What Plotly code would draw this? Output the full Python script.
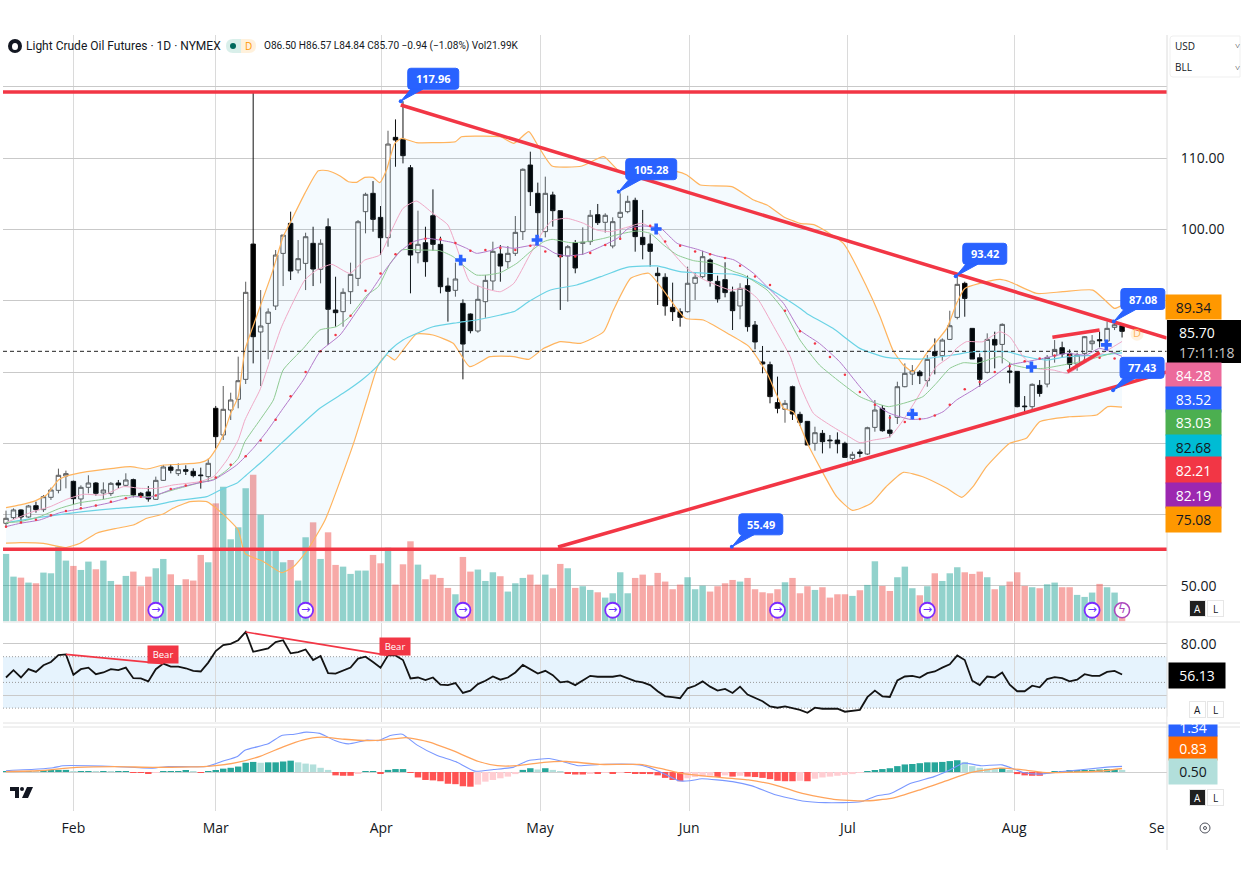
import plotly.graph_objects as go

W = 1244
H = 874

# daily candles, 150 sessions (x is the session number)
opens = [58.79,59.58,60.66,59.67,61.26,60.70,62.43,63.41,65.42,64.67,62.20,63.83,64.44,63.04,62.95,64.44,64.11,64.91,62.99,63.18,
 62.15,64.81,66.68,65.75,66.31,66.08,65.56,65.33,74.91,71.17,74.67,76.17,78.97,97.94,85.61,86.82,89.25,96.63,100.84,94.30,
 95.23,98.04,94.39,100.37,88.69,88.46,91.26,93.13,102.48,105.05,101.68,98.83,112.90,112.62,108.64,96.73,98.13,101.91,97.90,92.05,
 91.45,89.63,88.13,85.75,89.86,92.76,96.55,95.47,96.64,99.68,109.02,105.05,99.68,104.82,102.62,96.27,98.13,98.04,98.28,102.06,
 100.99,97.67,101.69,102.48,104.07,98.88,97.95,93.84,93.28,89.07,88.46,88.46,92.44,93.37,95.71,92.71,92.95,91.22,89.26,92.11,
 86.59,81.41,81.03,75.71,74.76,77.94,74.06,73.08,70.00,71.40,70.46,70.46,70.00,67.89,68.78,68.50,72.24,74.90,71.86,73.64,
 77.94,79.71,80.00,78.78,82.85,82.29,84.57,87.66,92.43,86.12,82.00,79.95,84.57,83.87,80.14,80.09,75.23,75.14,78.13,78.31,
 82.29,83.41,82.61,81.12,82.61,83.97,84.53,84.34,86.26,86.50]
highs = [60.56,60.88,60.75,61.36,61.82,62.76,63.79,66.45,66.17,64.77,64.11,65.52,64.58,64.53,64.58,64.86,65.80,65.05,63.18,64.02,
 65.33,66.96,67.06,67.20,66.92,66.50,66.59,67.85,75.24,78.04,77.10,82.15,92.66,119.40,91.49,88.92,97.10,99.20,102.48,98.50,
 99.53,100.37,98.60,101.54,93.36,91.73,95.33,101.31,105.14,106.77,103.27,113.83,115.42,117.96,109.02,102.62,100.37,105.61,98.97,93.22,
 95.33,90.19,88.22,92.10,93.60,98.27,97.80,97.67,101.87,108.55,110.89,106.55,107.39,105.28,102.62,97.81,98.51,100.28,102.71,103.56,
 102.25,101.69,105.05,104.72,104.44,102.72,99.30,94.68,93.84,92.53,88.93,94.77,93.93,97.00,95.94,93.51,95.38,91.97,92.44,93.51,
 87.15,83.65,81.45,79.35,76.07,78.08,74.43,73.13,72.33,71.86,71.16,71.54,70.23,68.83,69.15,72.33,76.07,75.37,73.97,78.64,
 81.21,80.98,80.28,82.38,84.71,84.71,88.59,93.42,92.66,86.12,82.61,85.42,85.65,86.82,81.21,80.09,76.63,78.41,78.87,82.38,
 84.48,84.25,83.17,82.71,85.04,85.18,85.65,87.08,87.08,86.57]
lows = [58.41,59.25,59.02,59.58,60.28,60.38,62.06,62.99,63.69,61.36,61.22,62.99,62.66,62.15,62.62,63.69,63.93,62.43,62.38,61.82,
 62.06,64.72,65.79,65.42,65.56,65.23,63.65,64.63,69.30,70.47,73.27,74.91,78.32,81.21,78.04,81.78,88.69,92.05,92.90,93.83,
 91.49,92.05,92.43,83.78,86.35,86.35,89.53,92.05,99.44,99.67,96.40,97.57,108.78,109.25,91.03,95.23,93.36,97.00,91.03,87.06,
 90.56,78.97,85.42,85.51,87.61,91.49,92.66,94.54,96.27,98.51,103.28,98.88,98.88,100.38,88.70,89.86,93.84,96.41,97.81,100.61,
 99.54,97.34,98.51,102.25,96.87,95.80,94.77,89.40,87.90,87.15,86.36,88.32,90.10,93.14,91.97,89.73,90.47,85.89,87.39,85.66,
 83.18,79.82,75.61,74.21,72.89,73.27,72.43,69.76,68.97,68.59,69.30,68.59,68.03,67.42,68.03,68.36,71.63,71.63,70.84,72.71,
 77.85,78.17,78.31,77.94,79.67,81.59,84.48,87.38,87.75,81.82,77.94,79.81,80.51,81.21,78.41,75.05,74.29,74.57,76.54,77.85,
 81.31,82.05,80.04,80.18,81.59,83.08,83.45,83.64,85.88,84.84]
closes = [59.49,60.66,59.67,61.22,60.70,62.52,63.46,65.52,65.75,62.24,63.83,64.44,62.99,63.46,64.39,64.16,64.86,62.76,62.62,62.20,
 64.81,66.68,66.22,66.31,66.08,65.47,65.47,67.20,70.94,74.77,76.08,78.78,91.17,84.95,86.45,88.41,96.40,99.20,94.16,95.89,
 98.97,94.44,98.04,88.79,88.32,91.17,93.69,101.07,104.91,101.40,98.83,111.96,112.52,110.33,96.40,97.90,95.47,97.90,91.96,91.31,
 93.04,83.92,85.79,90.19,92.85,96.92,94.86,96.64,99.58,108.42,105.28,102.34,105.05,102.62,96.17,97.57,94.58,98.18,101.97,100.94,
 101.97,101.08,102.39,103.93,98.98,97.86,96.92,93.51,89.26,88.46,87.67,92.44,93.28,96.17,92.81,90.24,91.13,88.60,91.73,86.36,
 84.21,81.13,76.55,74.91,75.60,74.11,72.94,69.76,71.49,70.23,70.37,69.95,68.03,68.45,68.59,72.19,74.67,71.77,71.40,77.94,
 79.81,80.18,79.48,81.77,82.29,84.48,86.49,92.29,90.32,81.82,78.97,84.57,83.78,86.68,80.00,75.14,75.14,78.27,77.00,82.05,
 83.17,82.52,81.07,82.38,84.95,84.34,84.39,86.12,86.63,85.70]
volumes = [86.9,57.6,56.3,49.9,49.0,62.8,61.9,96.3,78.3,71.4,66.2,77.0,67.1,78.3,52.0,47.3,58.5,64.1,45.2,57.6,
 68.4,80.4,60.6,46.4,54.2,52.5,85.6,76.1,152.2,173.7,105.8,121.3,171.6,189.2,137.6,91.2,91.2,76.1,79.1,52.5,
 108.4,127.7,80.4,114.8,72.7,70.5,61.1,65.4,65.4,85.6,74.8,95.0,47.3,73.5,103.2,73.1,54.2,60.2,55.9,43.0,
 34.8,83.0,64.1,66.7,52.0,63.2,58.1,38.3,49.0,55.9,60.2,47.3,60.2,42.6,74.0,68.4,43.0,45.2,40.4,37.4,
 30.5,36.1,63.2,36.1,55.9,60.2,46.0,62.4,51.2,41.3,47.3,56.8,41.3,46.0,38.3,45.2,49.0,53.3,51.2,55.9,
 41.3,37.4,36.1,41.3,50.3,55.9,36.1,45.2,40.4,43.9,30.5,34.8,34.8,32.7,40.0,46.9,77.4,45.6,39.1,56.8,
 70.5,42.6,33.5,45.2,61.9,52.0,61.9,69.7,63.2,61.1,64.1,56.8,41.3,45.6,51.2,63.2,45.6,43.9,42.6,47.7,
 49.9,43.9,43.9,34.0,31.4,37.0,48.2,43.9,37.0,21.99]

bb_upper_idx = [0,1.9,3.6,5.4,7,8.1,10.8,14.3,16.6,18.8,21,23.2,25.9,27,28,29,30,31,31.9,33.2,35.5,37,37.9,39.9,41.7,43,44.6,45.7,46.8,47.9,49,49.9,50.8,51.9,52.8,54.8,57,60,60.8,62.8,66,67.8,69.8,71.1,72.9,76.9,79.8,82,89.6,90.9,92.7,96.9,99.8,101.6,103.8,106,108,111.8,114.9,116.7,118.4,119.8,121.1,122.9,125.6,126.9,128,130,132.7,134,137.6,141.1,145.1,146.7,148,149]
bb_upper = [60.98,61.36,61.82,62.76,64.86,65.42,66.03,66.50,66.73,66.40,66.96,67.06,67.29,67.76,69.16,71.17,74.21,76.54,83.08,87.05,93.83,98.97,100.84,105.05,108.22,108.22,107.48,106.68,106.59,107.29,107.29,106.54,108.32,112.06,112.76,112.15,112.15,112.29,112.99,113.08,112.99,112.06,113.70,111.59,108.88,108.88,110.19,108.09,108.09,107.62,106.22,105.99,104.12,103.42,101.78,100.85,100.60,98.03,91.96,87.75,83.08,80.98,80.04,82.61,86.12,89.62,91.72,92.43,92.99,92.66,91.02,91.26,91.49,90.09,88.92,89.34]
bb_lower_idx = [0,1.9,5,7.9,9.9,12.1,14.8,17,18.8,21,22.3,24.6,26.8,28.6,31,31.9,34.4,36.8,38.4,40.1,42.6,46.4,48.2,49.7,50.8,51.9,53,54.8,57,59.7,61.9,64.6,66,67.8,69.8,71.8,74,76.7,79.8,81.1,83.4,85.8,87.4,90.7,93.1,96.3,99.2,101.6,103.8,105.1,107.1,109.1,110.9,113,115.5,117.5,119.8,122.4,125.6,127.6,129.1,130.9,134,136.2,138,142,145.6,147.1,149]
bb_lower = [56.00,56.08,55.98,55.38,56.00,57.40,58.09,58.55,59.49,60.09,60.89,61.82,61.82,60.42,57.85,54.58,53.41,51.87,52.71,54.81,59.25,70.00,76.07,80.98,82.38,81.68,83.08,85.33,85.19,84.02,80.75,82.15,82.24,82.15,81.78,83.32,84.26,84.02,85.66,88.70,93.14,93.84,91.97,87.53,87.29,85.43,83.56,79.82,74.91,74.43,69.76,65.79,62.52,60.60,61.60,63.92,65.93,65.32,63.69,62.42,63.92,66.72,70.00,70.70,73.03,73.73,73.97,75.14,75.08]

# moving averages
pink_idx = [0,3.6,5.9,8.1,10.3,13,15.7,17.9,20.1,22.3,25.9,27.7,29.5,31,31.9,33,33.9,36.8,39.9,41.5,43.5,45.9,47.9,49.9,51.5,53,54.8,57,59,60.6,61.9,64.2,66,67.8,69.8,71.8,72.9,74.9,77.1,78.9,80.7,82.9,84.9,86.9,88.7,90.9,93.1,96.7,98.5,100.3,102.5,104.7,106,107.8,110,112.2,114,115.8,118,119.8,121.5,124.2,126,126.9,128.2,130.4,132.7,134,135.8,137.6,139.8,141.8,143.6,146,149]
pink = [58.88,60.42,61.12,62.15,62.85,62.76,63.93,63.69,63.69,64.16,64.63,65.33,67.67,70.47,73.27,75.61,77.48,86.35,92.90,94.30,95.09,93.83,95.70,96.40,99.91,102.94,103.97,102.24,100.61,96.17,92.66,91.64,91.26,92.43,96.17,99.91,101.22,101.55,100.85,99.91,99.68,100.29,100.85,99.68,97.11,94.54,92.99,91.50,91.73,90.33,86.36,82.15,78.20,74.20,72.57,71.16,70.09,70.46,70.93,73.27,76.07,80.74,82.14,83.31,84.25,84.25,85.65,84.95,82.14,80.51,80.28,79.81,80.98,82.38,84.28]
green_idx = [0,1.9,4.5,7.2,9.9,13,15.7,19.2,22.3,25.9,27.7,29.5,31,31.9,33.9,35.7,37,39.7,41.9,44.1,45.9,48.2,49.7,51.3,52.8,55.3,57.9,59.7,61.5,62.8,64.2,66,68.2,70,71.8,72.9,75.3,77.6,79.8,82,84.2,86,87.8,89.6,91.8,94.5,97.2,98.5,100.3,101.6,103.8,106,108.6,111.3,114,116.2,117.8,119.8,122.4,124.2,126,127.8,129.6,132.7,134.5,136.7,138.5,141.1,143.4,146,149]
green = [58.88,59.02,59.72,60.89,61.68,62.15,62.66,62.52,63.46,64.49,64.95,66.26,67.90,70.24,73.27,76.08,80.28,83.32,85.89,86.35,87.76,90.79,91.96,95.23,97.10,97.10,97.01,96.17,94.53,93.60,93.60,93.93,95.24,96.87,98.28,98.60,98.14,98.28,98.74,99.35,99.77,99.44,97.81,96.41,95.61,95.24,94.07,93.60,92.43,91.50,88.70,84.49,80.98,78.64,76.54,75.60,75.14,75.60,76.54,78.41,80.51,81.30,81.21,82.14,80.98,80.51,80.51,80.98,81.44,82.14,83.03]
purple_idx = [0,1.9,4.5,7.2,10.3,13.9,17,19.2,22.3,25.9,27.7,30.8,33,34.8,37,39.7,41.9,44.6,46.8,49,50.8,52.6,54.4,56.2,57.9,59.7,61.5,62.8,64.6,66,67.8,70.5,71.8,73.3,74.9,77.1,79.4,81.6,83.1,85.1,87.4,89.6,92.3,94.9,97.2,99.8,101.6,103.8,106,108.6,111.3,114,116.2,118,120.7,122.9,125.1,126.9,129.1,131.8,134,136.2,138.5,141.6,144.2,146,149]
purple = [58.32,58.79,59.25,60.28,60.89,61.68,62.52,62.43,63.60,64.49,64.86,66.96,69.30,71.64,74.91,78.88,82.85,85.19,88.46,91.73,94.53,96.87,98.27,98.74,98.50,98.13,97.34,96.64,97.01,97.57,97.34,97.81,97.57,96.64,96.27,96.55,97.57,98.74,100.15,100.47,100.15,98.04,97.20,96.27,95.71,93.84,91.97,89.63,85.88,84.01,81.44,77.94,75.37,74.20,73.36,73.50,74.43,76.07,77.47,79.34,80.98,81.44,81.91,82.61,82.38,83.31,82.19]
cyan_idx = [0,4.5,10.3,14.8,19.2,22.8,26.8,28.6,30.8,32.1,34.4,37,41.9,45,47.5,49.5,51.3,53,57,60.2,62.8,66,68,69.8,72.7,76.2,79.4,82.9,86.9,90,93.6,97.2,99.8,102.9,106,106.9,110.4,114,117.5,122,126.4,129.1,133.6,136.2,138.9,141.6,146,149]
cyan = [58.88,59.63,60.42,60.89,61.22,61.96,62.52,63.46,64.39,65.56,67.66,70.24,74.91,77.01,78.88,80.75,83.08,84.49,86.35,86.91,87.29,87.99,88.56,89.87,91.50,92.20,93.37,94.68,94.87,94.07,93.84,93.70,92.90,91.03,88.93,88.22,86.12,83.31,82.05,81.82,82.38,82.85,82.85,82.14,81.68,82.14,82.38,82.68]
# red dots, every second session
dots_idx = list(range(0, 150, 2))
dots = [58.3,58.9,59.3,59.9,60.5,60.9,61.3,61.8,62.3,62.5,62.7,63.6,64.1,64.6,65.2,67.0,68.2,70.4,73.3,76.6,80.0,82.9,85.2,87.9,91.4,93.8,96.5,98.0,98.7,98.6,98.1,97.0,97.1,97.4,97.1,97.7,96.9,96.2,96.2,96.7,97.8,98.7,100.1,100.5,98.3,97.7,96.9,96.5,96.0,94.9,93.4,92.2,88.6,85.7,84.0,82.1,79.6,77.2,75.4,73.6,73.0,73.4,73.9,75.4,77.6,78.6,80.0,80.8,81.5,81.9,82.3,82.3,81.7,82.0,81.9]
# blue crosses
cross_idx = [60.7,70.9,86.8,121,136.9,146.9]
cross_price = [95.7,98.5,100.05,74.1,80.7,83.8]

# drawn lines (session, price, session, price)
resistance_top = [-0.4,119.25,155,119.25]
support_bottom = [-0.4,55.14,155,55.14]
falling_line = [52.7,117.43,155,84.77]
rising_line = [73.7,55.47,155,80.0]
small_upper = [139.7,84.87,146,85.89]
small_lower = [141.7,80.04,146,82.72]
last_close_line = 82.9

# price callouts
callout_idx = [52.7,81.8,126.8,147.9,147.8,96.9]
callout_price = [117.96,105.28,93.42,87.08,77.43,55.49]
callout_text = ['117.96','105.28','93.42','87.08','77.43','55.49']

event_idx = [20,40,61,81,103,123,145]
event_level = 46.6

# rsi, one value per session
rsi = [53.8,59.5,53.8,60.3,58.2,63.3,65.9,71.3,71.8,55.9,60.3,61.5,56.4,57.7,60.3,59.5,61.5,53.3,53.1,50.8,
 60.3,64.6,62.3,62.3,61.0,59.0,58.5,65.4,74.4,79.0,80.0,82.8,89.2,73.8,75.1,76.4,81.3,82.8,72.6,73.6,
 75.6,67.4,70.5,57.2,56.9,59.0,61.5,68.5,70.0,65.9,61.5,71.0,71.0,67.4,53.1,53.8,51.8,53.8,48.2,47.9,
 49.5,41.8,43.6,48.7,51.3,54.6,52.1,53.8,57.7,63.6,60.3,56.9,59.0,55.6,50.0,50.8,47.9,51.8,55.1,54.4,
 54.5,54.4,55.4,53.5,51.0,50.0,47.9,43.1,39.2,38.5,37.7,45.4,47.4,50.8,46.7,43.6,44.9,41.8,46.7,40.5,
 38.2,35.4,31.3,30.3,31.3,30.0,28.7,26.4,30.3,29.5,29.5,29.5,27.2,28.2,28.7,38.5,43.6,39.2,38.7,51.5,
 54.6,55.1,53.8,57.2,58.5,61.5,64.1,71.0,67.4,51.3,47.9,54.6,53.8,57.7,48.2,43.1,43.1,47.4,46.2,52.6,
 54.1,53.3,50.8,52.1,56.4,55.1,55.1,58.2,59.0,56.13]
bear_lines = [[8,71.8,21,64.6],[32,89.2,51,71.0]]
bear_label_idx = [21,51.9]
bear_label_rsi = [71.5,77.7]

# macd
macd_idx = [0,4.3,6.3,7.6,11,14.5,19.6,21.7,26.8,28.8,30.9,31.9,35,36.8,38.5,40.1,41.9,43.9,45.7,48.2,49.8,51.3,52.9,54.9,57.5,60,62.6,65.1,67.7,69.7,72.5,74.3,76.4,79.3,84.6,86.7,88.2,89.8,91.3,92.9,97,99.6,102.7,106.3,109.4,114.1,116.2,118,120.8,123.9,126,127.8,130.2,133,135.8,137.9,141,146.7,149]
macd = [0.3,0.7,1.0,1.5,1.5,1.3,0.9,1.3,1.3,2.5,3.7,5.2,6.7,8.7,9.0,9.5,9.2,7.5,6.7,7.6,7.5,8.7,9.0,6.4,4.0,2.5,0.2,0.6,1.1,2.7,3.2,2.5,1.5,1.8,1.7,0.5,-0.7,-2.1,-2.1,-1.6,-2.3,-3.3,-5.4,-6.9,-7.3,-7.1,-5.7,-5.2,-2.7,-1.1,0.5,2.1,1.5,1.7,-0.1,-0.5,0.1,1.1,1.34]
signal_idx = [0,4.3,9.4,14.5,19.6,24.7,27.3,30.9,34,37,39.6,42.1,45.2,48.2,50.3,53.4,56.4,59.5,63.1,65.6,68.2,71.8,74.8,79.3,84.6,87.2,89.8,93.4,99.1,102.7,106.3,110.5,114.6,118.2,121.9,125.5,128.6,132.7,135.8,138.4,141.5,146.7,149]
signal = [0.1,0.3,1.1,1.3,1.1,1.2,1.4,2.3,3.8,6.0,7.6,8.3,7.8,7.5,7.6,8.2,7.2,5.2,2.5,1.5,1.5,2.3,2.5,1.8,1.8,0.9,-0.2,-1.0,-1.9,-3.1,-5.1,-6.5,-6.9,-6.3,-4.3,-2.1,-0.2,0.9,0.5,-0.1,-0.1,0.3,0.83]
hist = [0.1,0.2,0.1,0.2,0.1,0.4,0.4,0.5,0.5,0.2,0.2,0.2,0.1,0.1,0.05,0.1,0.2,-0.1,-0.2,-0.3,
 -0.1,0.1,0.1,0.2,0.3,0.05,-0.2,0.1,0.3,0.8,1.0,1.3,2.2,2.4,2.2,2.3,2.3,2.5,2.7,2.3,
 2.0,1.8,1.0,0.5,-0.8,-0.9,-0.9,-0.4,0.2,0.2,-0.3,0.5,0.7,0.7,-0.2,-1.3,-1.9,-2.0,-2.2,-2.8,
 -2.9,-3.4,-3.5,-3.0,-2.3,-1.9,-1.5,-1.1,-0.5,0.5,0.9,0.6,0.9,0.5,0.1,-0.3,-0.6,-0.6,-0.3,-0.3,
 -0.2,-0.3,-0.2,-0.2,-0.3,-0.4,-0.5,-0.8,-1.4,-1.9,-2.2,-1.5,-1.2,-1.1,-0.9,-1.2,-0.8,-1.1,-0.9,-1.1,
 -1.2,-1.4,-1.7,-2.1,-2.2,-2.2,-2.1,-2.2,-1.6,-1.3,-1.1,-0.9,-0.7,-0.5,-0.2,0.2,0.4,0.7,0.9,1.4,
 1.8,1.9,2.1,2.3,2.3,2.4,2.6,2.8,2.4,1.4,1.0,0.8,0.7,0.9,0.3,-0.5,-0.8,-0.9,-0.9,-0.3,
 0.1,0.2,0.3,0.4,0.5,0.5,0.6,0.7,0.7,0.5]

month_idx = [9,28,50.1,71.3,91.2,112.4,134.6,154.2]
month_labels = ['Feb','Mar','Apr','May','Jun','Jul','Aug','Se']

price_ticks = [50,60,70,80,90,100,110,120]
price_tick_labels = ['50.00','','','','','100.00','110.00','']

# value tags on the right scale: text, fill, text colour, top, bottom
tag_rows = [
    ('89.34','#FF9800','#131722',295,318),
    ('84.28','#EC6A9B','#ffffff',363,387),
    ('83.52','#2962FF','#ffffff',387,411),
    ('83.03','#4CAF50','#ffffff',411,435),
    ('82.68','#00BCD4','#131722',435,458),
    ('82.21','#F23645','#ffffff',458,483),
    ('82.19','#9C27B0','#ffffff',483,507),
    ('75.08','#FF9800','#131722',507,531),
    ('0.83','#FF6D00','#ffffff',736,759),
    ('0.50','#B2DFDB','#131722',759,783),
]

RED = '#F23645'
BLUE = '#2962FF'
FONT = 'Open Sans'
x = list(range(len(closes)))


def px(v):
    return v / W


def py(v):
    return 1 - v / H


def seg(pts, color, width, yaxis='y2', dash=None):
    return go.Scatter(x=[pts[0], pts[2]], y=[pts[1], pts[3]], mode='lines', yaxis=yaxis,
                      line=dict(color=color, width=width, dash=dash), hoverinfo='skip')


def ma_line(xs, ys, color, width=1.0, yaxis='y2'):
    return go.Scatter(x=xs, y=ys, mode='lines', yaxis=yaxis,
                      line=dict(color=color, width=width, shape='spline', smoothing=0.5), hoverinfo='skip')


def round_box(x0, y0, x1, y1, r=3):
    return (f'M{x0+r},{y0} L{x1-r},{y0} Q{x1},{y0} {x1},{y0+r} L{x1},{y1-r} Q{x1},{y1} {x1-r},{y1} '
            f'L{x0+r},{y1} Q{x0},{y1} {x0},{y1-r} L{x0},{y0+r} Q{x0},{y0} {x0+r},{y0} Z')


def page_text(text, xp, yp, size=12, color='#131722', anchor='left', family=FONT, **kw):
    return dict(text=text, xref='paper', yref='paper', x=px(xp), y=py(yp), showarrow=False,
                xanchor=anchor, yanchor='middle', font=dict(size=size, color=color, family=family), **kw)


fig = go.Figure()

# volume sits on the lowest axis so everything else draws over it
vol_colors = ['rgba(38,166,154,0.5)' if c >= o else 'rgba(239,83,80,0.5)' for o, c in zip(opens, closes)]
fig.add_trace(go.Bar(x=x, y=volumes, yaxis='y', marker=dict(color=vol_colors, line_width=0), width=0.86, hoverinfo='skip'))

# band fill
fig.add_trace(go.Scatter(x=bb_upper_idx + bb_lower_idx[::-1], y=bb_upper + bb_lower[::-1], yaxis='y2', mode='none',
                         fill='toself', fillcolor='rgba(33,150,243,0.05)', hoverinfo='skip'))
fig.add_trace(ma_line(bb_upper_idx, bb_upper, '#FFB45E', 1.2))
fig.add_trace(ma_line(bb_lower_idx, bb_lower, '#FFB45E', 1.2))
fig.add_trace(ma_line(cyan_idx, cyan, '#6BD3E5', 1.2))
fig.add_trace(ma_line(pink_idx, pink, '#F0A8C6'))
fig.add_trace(ma_line(green_idx, green, '#8FCB93'))
fig.add_trace(ma_line(purple_idx, purple, '#B47ACB'))
fig.add_trace(go.Scatter(x=dots_idx, y=dots, yaxis='y2', mode='markers', marker=dict(color=RED, size=2.5), hoverinfo='skip'))

fig.add_trace(seg([-0.4, last_close_line, 155, last_close_line], '#222222', 1, dash='4px,3px'))

fig.add_trace(go.Candlestick(x=x, open=opens, high=highs, low=lows, close=closes, yaxis='y2', whiskerwidth=0,
                             increasing=dict(line=dict(color='#5a5a5a', width=1), fillcolor='#ffffff'),
                             decreasing=dict(line=dict(color='#111111', width=1), fillcolor='#000000'),
                             hoverinfo='skip'))

for pts in [resistance_top, support_bottom, falling_line, rising_line, small_upper, small_lower]:
    fig.add_trace(seg(pts, RED, 3.5))

fig.add_trace(go.Scatter(x=cross_idx, y=cross_price, yaxis='y2', mode='markers',
                         marker=dict(symbol='cross', size=9, color=BLUE, line_width=0), hoverinfo='skip'))
fig.add_trace(go.Scatter(x=callout_idx, y=callout_price, yaxis='y2', mode='markers',
                         marker=dict(size=4, color=BLUE), hoverinfo='skip'))

# purple event icons on the volume strip
fig.add_trace(go.Scatter(x=event_idx, y=[event_level] * len(event_idx), yaxis='y2', mode='markers+text', text=['→'] * len(event_idx),
                         textposition='middle center', textfont=dict(size=11, color='#6A2BFF', family='DejaVu Sans'),
                         marker=dict(size=15, color='#ffffff', line=dict(color='#7B2BFF', width=1.8)), hoverinfo='skip'))
fig.add_trace(go.Scatter(x=[149], y=[event_level], yaxis='y2', mode='markers+text', text=['ϟ'], textposition='middle center',
                         textfont=dict(size=12, color='#AB47BC', family='DejaVu Sans'),
                         marker=dict(size=15, color='#ffffff', line=dict(color='#AB47BC', width=1.6)), hoverinfo='skip'))
fig.add_trace(go.Scatter(x=[151], y=[85.3], yaxis='y2', mode='markers+text', text=['D'], textposition='middle center',
                         textfont=dict(size=11, color='#FFB45A', family=FONT),
                         marker=dict(size=13, color='rgba(255,152,0,0.12)'), hoverinfo='skip'))

# rsi pane
fig.add_trace(go.Scatter(x=x, y=rsi, yaxis='y3', mode='lines', line=dict(color='#131313', width=1.8), hoverinfo='skip'))
for pts in bear_lines:
    fig.add_trace(seg(pts, RED, 1.6, yaxis='y3'))

# macd pane
hist_colors = []
for k, v in enumerate(hist):
    prev = hist[k - 1] if k else 0
    if v >= 0:
        hist_colors.append('#26A69A' if v >= prev else '#B2DFDB')
    else:
        hist_colors.append('#FF5252' if v <= prev else '#FFCDD2')
fig.add_trace(go.Bar(x=x, y=hist, yaxis='y4', marker=dict(color=hist_colors, line_width=0), width=0.86, hoverinfo='skip'))
fig.add_trace(ma_line(macd_idx, macd, '#7A98FF', 1.1, yaxis='y4'))
fig.add_trace(ma_line(signal_idx, signal, '#FFA45C', 1.3, yaxis='y4'))

shapes = []
annotations = []

# callouts hang off their data point, sized in pixels
for i, p, t in zip(callout_idx, callout_price, callout_text):
    w = 51 if len(t) > 5 else 44
    box = round_box(7, 12, 7 + w, 33)
    tail = 'M0,0 L10,12 L22,12 Z'
    shapes.append(dict(type='path', path=box + ' ' + tail, xref='x', yref='y2', xsizemode='pixel', ysizemode='pixel',
                       xanchor=i, yanchor=p, fillcolor=BLUE, line=dict(color=BLUE, width=1), layer='above'))
    annotations.append(dict(text=f'<b>{t}</b>', xref='x', yref='y2', x=i, y=p, xshift=7 + w / 2, yshift=22.5, showarrow=False,
                            font=dict(size=11, color='#ffffff', family=FONT)))

# rsi band and its levels
shapes.append(dict(type='rect', xref='x', yref='y3', x0=-0.4, x1=155, y0=30, y1=70, fillcolor='#E6F3FD', line_width=0, layer='below'))
for lvl in [70, 50, 30]:
    shapes.append(dict(type='line', xref='x', yref='y3', x0=-0.4, x1=155, y0=lvl, y1=lvl, layer='below',
                       line=dict(color='#9a9a9a', width=1, dash='1px,2px')))

for i, v in zip(bear_label_idx, bear_label_rsi):
    annotations.append(dict(text='Bear', xref='x', yref='y3', x=i, y=v, showarrow=False, bgcolor=RED, width=28, height=15,
                            font=dict(size=9.5, color='#ffffff', family=FONT)))

# pane separators, scale border
for yy in [622, 723, 727]:
    shapes.append(dict(type='line', xref='paper', yref='paper', x0=px(3), x1=px(1240), y0=py(yy), y1=py(yy),
                       line=dict(color='#e2e2e2', width=1)))
shapes.append(dict(type='line', xref='paper', yref='paper', x0=px(1167), x1=px(1167), y0=py(35), y1=py(850),
                   line=dict(color='#dcdcdc', width=1)))

# right hand tags
for t, fill, col, top, bottom in tag_rows:
    annotations.append(page_text(t, 1193.5, (top + bottom) / 2, size=14, color=col, anchor='center', bgcolor=fill, width=53 if top < 600 else 46,
                                 height=bottom - top - 1))
annotations[-1]['x'] = px(1193)
annotations[-2]['x'] = px(1193)
annotations.append(page_text('1.34', 1193, 727, size=14, color='#ffffff', anchor='center', bgcolor=BLUE, width=46, height=16))
annotations.append(page_text(' ', 1193, 720, size=1, color='#ffffff', anchor='center', bgcolor='#ffffff', width=48, height=5))
shapes.append(dict(type='rect', xref='paper', yref='paper', x0=px(1167), x1=px(1241), y0=py(320), y1=py(363), fillcolor='#000000', line_width=0))
annotations.append(page_text('85.70', 1177, 332, size=14, color='#ffffff'))
annotations.append(page_text('17:11:18', 1177, 352, size=14, color='#C8C8C8'))
annotations.append(page_text('56.13', 1197, 675, size=14, color='#ffffff', anchor='center', bgcolor='#000000', width=54, height=23))

# A / L buttons
for yy, dark in [(608, True), (709, False), (797, True)]:
    annotations.append(page_text('A', 1197, yy, size=10, color='#ffffff' if dark else '#131722', anchor='center',
                                 bgcolor='#1f1f1f' if dark else '#ffffff', bordercolor='#e6e6e6', width=13, height=13))
    annotations.append(page_text('L', 1215, yy, size=10, color='#131722', anchor='center', bgcolor='#ffffff',
                                 bordercolor='#e6e6e6', width=13, height=13))

# currency and unit box
shapes.append(dict(type='path', xref='paper', yref='paper',
                   path=f'M{px(1173)},{py(36)} L{px(1240)},{py(36)} L{px(1240)},{py(77)} L{px(1173)},{py(77)} Q{px(1170)},{py(77)} {px(1170)},{py(74)} L{px(1170)},{py(39)} Q{px(1170)},{py(36)} {px(1173)},{py(36)} Z',
                   line=dict(color='#efefef', width=1), fillcolor='#ffffff'))
annotations.append(page_text('USD', 1173, 46, size=10))
annotations.append(page_text('BLL', 1173, 67, size=10))
annotations.append(page_text('˅', 1237, 46, size=9, anchor='center'))
annotations.append(page_text('˅', 1237, 67, size=9, anchor='center'))

# header row
shapes.append(dict(type='circle', xref='paper', yref='paper', x0=px(8), x1=px(22), y0=py(39), y1=py(53), fillcolor='#131722', line_width=0))
shapes.append(dict(type='circle', xref='paper', yref='paper', x0=px(12), x1=px(18), y0=py(43), y1=py(50), fillcolor='#ffffff', line_width=0))
annotations.append(page_text('Light Crude Oil Futures · 1D · NYMEX', 24, 46, size=12, family='Roboto'))
shapes.append(dict(type='path', xref='paper', yref='paper',
                   path=f'M{px(233)},{py(39)} L{px(241)},{py(39)} L{px(241)},{py(53)} L{px(233)},{py(53)} Q{px(226)},{py(53)} {px(226)},{py(46)} Q{px(226)},{py(39)} {px(233)},{py(39)} Z',
                   fillcolor='#D9EFEA', line_width=0))
shapes.append(dict(type='path', xref='paper', yref='paper',
                   path=f'M{px(241)},{py(39)} L{px(249)},{py(39)} Q{px(256)},{py(39)} {px(256)},{py(46)} Q{px(256)},{py(53)} {px(249)},{py(53)} L{px(241)},{py(53)} Z',
                   fillcolor='#FFF1DC', line_width=0))
shapes.append(dict(type='circle', xref='paper', yref='paper', x0=px(230), x1=px(236), y0=py(43), y1=py(49), fillcolor='#00695C', line_width=0))
annotations.append(page_text('D', 248, 46, size=10, color='#FF9800', anchor='center'))
annotations.append(page_text('O86.50 H86.57 L84.84 C85.70 −0.94 (−1.08%) Vol21.99K', 262, 46, size=10.1, family='Roboto'))

# logo
shapes.append(dict(type='path', xref='paper', yref='paper', fillcolor='#131722', line_width=0,
                   path=f'M{px(10)},{py(787)} L{px(19)},{py(787)} L{px(19)},{py(798)} L{px(15)},{py(798)} L{px(15)},{py(791)} L{px(10)},{py(791)} Z'))
shapes.append(dict(type='circle', xref='paper', yref='paper', x0=px(20), x1=px(24), y0=py(787), y1=py(791), fillcolor='#131722', line_width=0))
shapes.append(dict(type='path', xref='paper', yref='paper', fillcolor='#131722', line_width=0,
                   path=f'M{px(27)},{py(787)} L{px(33)},{py(787)} L{px(28)},{py(798)} L{px(22)},{py(798)} Z'))

# settings icon
shapes.append(dict(type='circle', xref='paper', yref='paper', x0=px(1200), x1=px(1210), y0=py(823), y1=py(833), line=dict(color='#50535E', width=1)))
shapes.append(dict(type='circle', xref='paper', yref='paper', x0=px(1203.5), x1=px(1206.5), y0=py(826.5), y1=py(829.5), line=dict(color='#50535E', width=1)))

fig.update_layout(
    width=W, height=H, margin=dict(l=0, r=0, t=0, b=0), autosize=False,
    paper_bgcolor='#ffffff', plot_bgcolor='#ffffff', showlegend=False, barmode='overlay', boxgap=0.15,
    font=dict(family=FONT, color='#131722', size=14),
    shapes=shapes, annotations=annotations,
    xaxis=dict(domain=[px(3), px(1167)], range=[-0.4, 155], anchor='y4', rangeslider=dict(visible=False),
               tickmode='array', tickvals=month_idx[:-1], ticktext=month_labels[:-1], showgrid=True, gridcolor='#DADADA', gridwidth=1,
               zeroline=False, showline=False, ticks='outside', ticklen=4, tickcolor='#ffffff', tickfont=dict(size=14, color='#131722')),
    yaxis=dict(domain=[py(622), py(35)], range=[-1, 757], visible=False, fixedrange=True),
    yaxis2=dict(domain=[py(622), py(35)], range=[44.95, 127.25], overlaying='y', side='right', anchor='x',
                tickmode='array', tickvals=price_ticks, ticktext=price_tick_labels, showgrid=True, gridcolor='#C9C9C9', gridwidth=1,
                zeroline=False, ticks='outside', ticklen=10, tickcolor='#ffffff', tickfont=dict(size=14, color='#131722')),
    yaxis3=dict(domain=[py(722), py(623)], range=[19.2, 96.2], side='right', anchor='x',
                tickmode='array', tickvals=[80, 40], ticktext=['80.00', ''], showgrid=True, gridcolor='#C9C9C9',
                zeroline=False, ticks='outside', ticklen=10, tickcolor='#ffffff', tickfont=dict(size=14, color='#131722')),
    yaxis4=dict(domain=[py(811), py(728)], range=[-9.29, 10.48], side='right', anchor='x', showgrid=False, showticklabels=False,
                zeroline=True, zerolinecolor='#cfcfcf', zerolinewidth=1),
)
annotations_extra = page_text(month_labels[-1], 1167, 827, size=14, anchor='right')
fig.add_annotation(annotations_extra)

fig.write_html("out.html", config=dict(displayModeBar=False),
               post_script="document.body.style.margin='0';document.body.style.overflow='hidden';")
